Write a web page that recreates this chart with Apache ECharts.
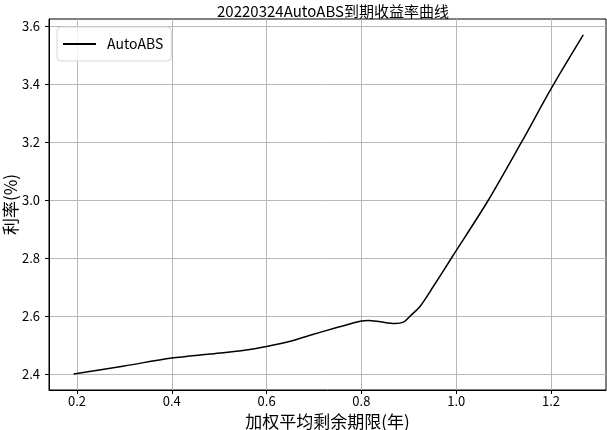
<!DOCTYPE html>
<html>
<head>
<meta charset="utf-8">
<script src="https://cdn.jsdelivr.net/npm/echarts@6/dist/echarts.min.js"></script>
<style>
  html, body { margin: 0; padding: 0; background: #fff; }
  #chart { width: 607px; height: 430px; }
</style>
</head>
<body>
<div id="chart"></div>
<script>
// 加权平均剩余期限(年) 和 利率(%)，从图上读的
const maturity = [0.193, 0.30, 0.40, 0.48, 0.55, 0.60, 0.65, 0.69, 0.75, 0.80, 0.815, 0.84, 0.87, 0.89, 0.903, 0.924, 0.951, 0.99, 1.068, 1.138, 1.20, 1.268];
const rate = [2.400, 2.428, 2.455, 2.469, 2.481, 2.495, 2.513, 2.533, 2.561, 2.583, 2.585, 2.580, 2.574, 2.580, 2.600, 2.634, 2.700, 2.800, 3.000, 3.200, 3.383, 3.569];
const xTicks = [0.2, 0.4, 0.6, 0.8, 1.0, 1.2];
const yTicks = [2.4, 2.6, 2.8, 3.0, 3.2, 3.4, 3.6];

const font = '"Noto Sans CJK SC", sans-serif';
const chart = echarts.init(document.getElementById('chart'));

const option = {
  animation: false,
  title: {
    text: '20220324AutoABS到期收益率曲线',
    left: 328,
    textAlign: 'center',
    top: -1,
    textStyle: { fontFamily: font, fontSize: 15, fontWeight: 'normal', color: '#000' }
  },
  legend: {
    left: 57,
    top: 27,
    orient: 'vertical',
    icon: 'rect',
    itemWidth: 33,
    itemHeight: 2,
    itemGap: 10,
    padding: [10, 8, 10, 6],
    backgroundColor: 'rgba(255,255,255,0.8)',
    borderColor: '#d5d5d5',
    borderWidth: 1,
    borderRadius: 4,
    textStyle: { fontFamily: font, fontSize: 14, color: '#000', padding: [0, 0, 0, 6] }
  },
  grid: {
    left: 49, right: 1, top: 19, bottom: 40,
    show: true, borderColor: '#000', borderWidth: 1,
    containLabel: false,
    outerBoundsMode: 'none'
  },
  xAxis: {
    type: 'value',
    min: 0.141,
    max: 1.316,
    name: '加权平均剩余期限(年)',
    nameLocation: 'middle',
    nameGap: 23,
    nameMoveOverlap: false,
    nameTextStyle: { fontFamily: font, fontSize: 17, color: '#000' },
    axisLine: { show: true, lineStyle: { color: '#000', width: 1 } },
    axisTick: { show: true, customValues: xTicks, length: 4, lineStyle: { color: '#000' } },
    axisLabel: {
      customValues: xTicks,
      formatter: v => v.toFixed(1),
      fontFamily: font, fontSize: 13, color: '#000', margin: 5
    },
    splitLine: { show: true, lineStyle: { color: '#b8b8b8', width: 1 } }
  },
  yAxis: {
    type: 'value',
    min: 2.345,
    max: 3.624,
    name: '利率(%)',
    nameLocation: 'middle',
    nameGap: 30,
    nameMoveOverlap: false,
    nameTextStyle: { fontFamily: font, fontSize: 17, color: '#000' },
    axisLine: { show: true, lineStyle: { color: '#000', width: 1 } },
    axisTick: { show: true, customValues: yTicks, length: 4, lineStyle: { color: '#000' } },
    axisLabel: {
      customValues: yTicks,
      formatter: v => v.toFixed(1),
      fontFamily: font, fontSize: 13, color: '#000', margin: 9
    },
    splitLine: { show: true, lineStyle: { color: '#b8b8b8', width: 1 } }
  },
  series: [{
    name: 'AutoABS',
    type: 'line',
    data: maturity.map((x, i) => [x, rate[i]]),
    showSymbol: false,
    smooth: 0.3,
    color: '#000',
    lineStyle: { color: '#000', width: 1.5 }
  }]
};

chart.setOption(option);
</script>
</body>
</html>
